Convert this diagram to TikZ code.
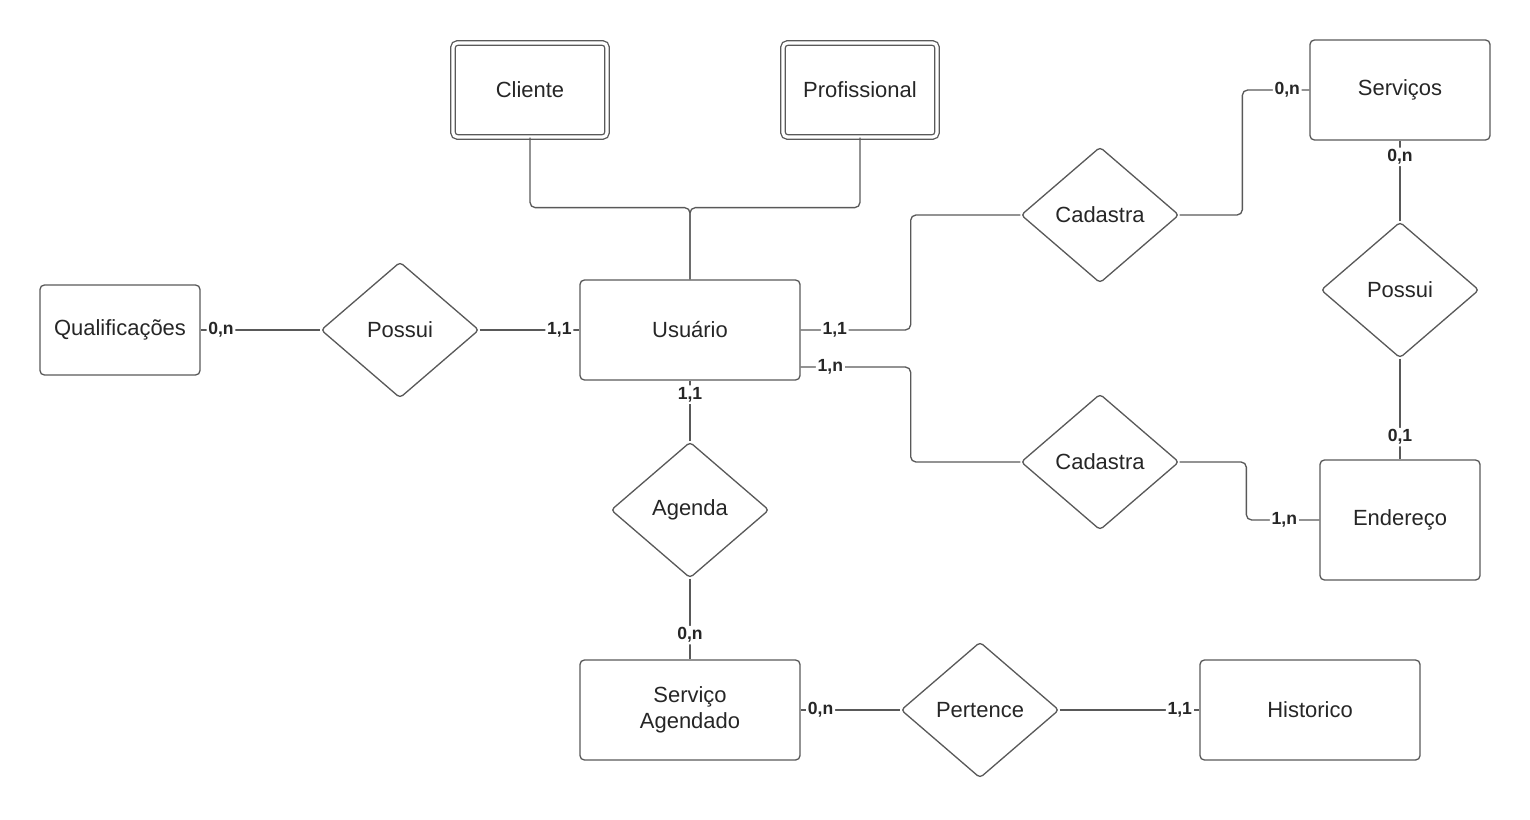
\documentclass[tikz,border=0pt]{standalone}
\usepackage{fontspec}
\setmainfont{Liberation Sans}
\usetikzlibrary{positioning, shapes.geometric, calc}

\begin{document}
\begin{tikzpicture}[node distance={15mm}, line width=0.75pt,
		entity/.style = {draw=black!65, rounded corners=2.5pt, minimum width=4.4cm, minimum height=2cm, align=center, text=black!85, font=\fontsize{12.5}{15}\selectfont},
		weak/.style = {entity, double=white, double distance=1.8pt, minimum width=3.08cm, minimum height=1.88cm},
		rel/.style = {draw=black!65, diamond, rounded corners=2pt, inner sep=0pt, minimum width=3.16cm, minimum height=2.72cm, text=black!85, font=\fontsize{12.5}{15}\selectfont},
		card/.style = {fill=white, inner sep=1pt, text=black!85, font=\fontsize{10}{12}\selectfont\bfseries},
		link/.style = {draw=black!65, rounded corners=3pt}]
		\useasboundingbox (0,0) rectangle (30.6,-16.4);
		% entidades
		\node[entity] (usuario) at (13.8,-6.6) {Usuário};
		\node[rel] (possuiQ) [left of=usuario, node distance=5.8cm] {Possui};
		\node[entity, minimum width=3.2cm, minimum height=1.8cm] (qualif) [left of=possuiQ, node distance=5.6cm] {Qualificações};
		\node[weak] (cliente) at (10.6,-1.8) {Cliente};
		\node[weak] (profissional) [right of=cliente, node distance=6.6cm] {Profissional};
		\node[rel] (agenda) [below of=usuario, node distance=3.6cm] {Agenda};
		\node[entity] (servAg) [below of=agenda, node distance=4cm] {Serviço\\Agendado};
		\node[rel] (pertence) [right of=servAg, node distance=5.8cm] {Pertence};
		\node[entity] (historico) [right of=pertence, node distance=6.6cm] {Historico};
		\node[rel] (cadastraA) at (22,-4.3) {Cadastra};
		\node[rel] (cadastraB) [below of=cadastraA, node distance=4.94cm] {Cadastra};
		\node[entity, minimum width=3.6cm] (servicos) at (28,-1.8) {Serviços};
		\node[rel] (possuiS) [below of=servicos, node distance=4cm] {Possui};
		\node[entity, minimum width=3.2cm, minimum height=2.4cm] (endereco) [below of=possuiS, node distance=4.6cm] {Endereço};
		% ligacoes
		\draw[link] (cliente.south) -- ++(0,-1.4) -| (usuario.north);
		\draw[link] (profissional.south) -- ++(0,-1.4) -| (usuario.north);
		\draw[link] (qualif.east) -- node[card, pos=0.17] {0,n} (possuiQ.west);
		\draw[link] (possuiQ.east) -- node[card, pos=0.8] {1,1} (usuario.west);
		\draw[link] (usuario.east) -- node[card, pos=0.31] {1,1} ++(2.2,0) |- (cadastraA.west);
		\draw[link] (servicos.west) -- node[card, pos=0.33] {0,n} ++(-1.34,0) |- (cadastraA.east);
		\draw[link] ($(usuario.east)+(0,-0.74)$) -- node[card, pos=0.27] {1,n} ++(2.2,0) |- (cadastraB.west);
		\draw[link] (endereco.west) -- node[card, pos=0.48] {1,n} ++(-1.46,0) |- (cadastraB.east);
		\draw[link] (servicos.south) -- node[card, pos=0.2] {0,n} (possuiS.north);
		\draw[link] (possuiS.south) -- node[card, pos=0.78] {0,1} (endereco.north);
		\draw[link] (usuario.south) -- node[card, pos=0.23] {1,1} (agenda.north);
		\draw[link] (agenda.south) -- node[card, pos=0.7] {0,n} (servAg.north);
		\draw[link] (servAg.east) -- node[card, pos=0.2] {0,n} (pertence.west);
		\draw[link] (pertence.east) -- node[card, pos=0.86] {1,1} (historico.west);
	\end{tikzpicture}
\end{document}
